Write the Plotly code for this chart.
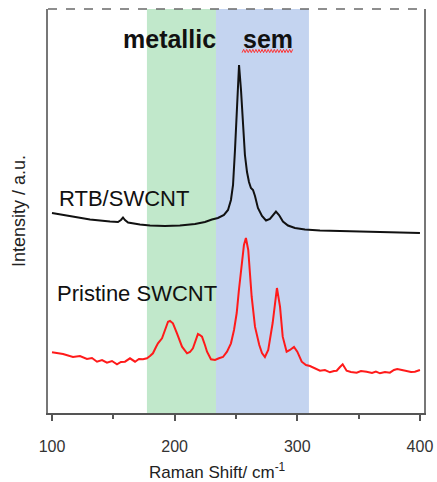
import plotly.graph_objects as go

# Raman shift (cm-1) and intensity (a.u., arbitrary offset units)
rtb_x = [100, 114.7, 131, 147.3, 153.8, 156.2, 157.9, 159.5, 162, 171.7, 179.9, 192, 204.3, 216.6,
         224.7, 230.4, 235.3, 240.2, 243.5, 245.9, 247.6, 249.2, 250.8, 252.5, 254.1, 255.7, 257.3,
         259, 260.6, 262.2, 263.9, 265.5, 267.9, 271.2, 274.5, 277.7, 280.2, 282.6, 285.1, 288.3,
         292.4, 298.1, 306.2, 318.5, 334.8, 351.1, 367.4, 383.7, 400]
rtb_y = [200, 197, 193.5, 191.5, 191, 193, 195.5, 193, 190.5, 188.5, 187.5, 187, 187.5, 189,
         191, 193.5, 195, 198, 203, 213, 228, 263, 313, 348, 323, 283, 258,
         241, 231, 225, 223, 217, 205, 197, 192.5, 194, 198.5, 201.5, 198, 191.5,
         187.5, 185, 183.5, 182.5, 182, 181.5, 180.5, 180.5, 180]

pri_x = [100.0, 109.0, 117.1, 122.8, 128.5, 132.6, 136.7, 140.8, 144.8, 148.9, 153.0, 156.2, 159.5,
         163.6, 167.7, 170.9, 174.2, 177.4, 179.9, 182.3, 184.8, 186.4, 189.7, 192.1, 194.6, 196.2,
         198.6, 201.9, 206.0, 210.1, 212.5, 214.9, 217.4, 219.0, 220.6, 222.3, 224.7, 226.4, 229.6,
         232.9, 236.1, 239.4, 242.7, 245.9, 248.4, 250.6, 252.4, 254.6, 256.5, 258.1, 260.0, 262.8,
         265.5, 269.0, 271.2, 273.6, 276.3, 279.9, 281.8, 283.4, 285.9, 288.1, 291.3, 294.0, 297.3,
         300.0, 303.6, 307.1, 310.3, 314.4, 318.5, 322.5, 326.6, 329.9, 332.1, 334.8, 337.0, 340.2,
         343.7, 348.4, 351.9, 356.5, 360.9, 364.1, 367.4, 371.5, 375.5, 378.8, 381.5, 385.3, 389.2,
         392.7, 395.9, 400.0]
pri_y = [60.7, 59, 56, 57, 54, 55, 51.3, 53, 50.3, 52, 48.7, 51, 51.3,
         54.7, 51.3, 54, 53.7, 54.7, 57, 59.7, 66, 69.7, 74.7, 83, 91.3, 92,
         89.7, 79.7, 66.3, 59.7, 61, 64.7, 73, 79, 78, 76.3, 68, 61.3, 53.7,
         53, 54.7, 56, 61.3, 69.7, 83, 100, 123, 150, 168, 175, 163, 116.3,
         86.3, 68, 60, 56, 63, 90, 113, 125, 106.3, 76.3, 61.3, 63, 66,
         61.3, 51.3, 48, 47, 45, 42.3, 43, 40.7, 42, 42.3, 46, 48.7, 42.3,
         41, 40.3, 42, 41.3, 40, 41.5, 39.7, 41, 40.3, 43, 44, 43, 42.3,
         41, 41.3, 43]

metallic_band = [177.4, 233.7]
semi_band = [233.7, 309.5]
x_ticks = [100, 200, 300, 400]
minor_ticks = [150, 250, 350]

W, H = 437, 482
L, R, T, B = 48, 13, 9, 69
PW, PH = W - L - R, H - T - B

fig = go.Figure()
fig.add_shape(type="rect", xref="x", yref="paper", x0=metallic_band[0], x1=metallic_band[1],
              y0=0, y1=1, fillcolor="#c1e8cb", line_width=0, layer="below")
fig.add_shape(type="rect", xref="x", yref="paper", x0=semi_band[0], x1=semi_band[1],
              y0=0, y1=1, fillcolor="#c4d4f0", line_width=0, layer="below")

fig.add_trace(go.Scatter(x=rtb_x, y=rtb_y, mode="lines", line=dict(color="#111111", width=2),
                         showlegend=False))
fig.add_trace(go.Scatter(x=pri_x, y=pri_y, mode="lines", line=dict(color="#ff1a1a", width=2),
                         showlegend=False))

# top dashed border
fig.add_shape(type="line", xref="paper", yref="paper", x0=0, x1=1, y0=1, y1=1,
              line=dict(color="#6a6a6a", width=1.5, dash="dash"))

# red wavy underline under "sem"
xs = 255.0
pts = []
i = 0
while xs <= 296.5:
    pts.append(f"{xs:.2f},{362 + (1.6 if i % 2 else -1.6):.2f}")
    xs += 1.25
    i += 1
fig.add_shape(type="path", xref="x", yref="y", path="M " + " L ".join(pts),
              line=dict(color="#ff3030", width=1))

font = "Liberation Sans, Arial, sans-serif"
fig.add_annotation(x=196.2, y=374, xref="x", yref="y", text="<b>metallic</b>", showarrow=False,
                   font=dict(family=font, size=25, color="#111111"))
fig.add_annotation(x=275.7, y=374, xref="x", yref="y", text="<b>sem</b>", showarrow=False,
                   font=dict(family=font, size=25, color="#111111"))
fig.add_annotation(x=104.1, y=215, xref="x", yref="y", text="RTB/SWCNT", showarrow=False,
                   xanchor="left", font=dict(family=font, size=22, color="#111111"))
fig.add_annotation(x=102.4, y=120, xref="x", yref="y", text="Pristine SWCNT", showarrow=False,
                   xanchor="left", font=dict(family=font, size=22, color="#111111"))
fig.add_annotation(x=(217.5 - L) / PW, y=(H - B - 471) / PH, xref="paper", yref="paper",
                   xanchor="center", yanchor="middle", text="Raman Shift/ cm<sup>-1</sup>",
                   showarrow=False, font=dict(family=font, size=17, color="#222222"))
fig.add_annotation(x=(19 - L) / PW, y=(H - B - 211) / PH, xref="paper", yref="paper",
                   xanchor="center", yanchor="middle", showarrow=False,
                   text="Intensity / a.u.", textangle=-90,
                   font=dict(family=font, size=18, color="#222222"))

fig.update_layout(
    width=W, height=H,
    margin=dict(l=L, r=R, t=T, b=B, autoexpand=False),
    paper_bgcolor="white", plot_bgcolor="white",
    xaxis=dict(range=[96.74, 403.3], tickvals=x_ticks, ticks="outside", ticklen=6,
               tickwidth=1.5, tickcolor="#555555", showline=True, linecolor="#555555",
               linewidth=1.5, showgrid=False, zeroline=False, ticklabelstandoff=12,
               automargin=False,
               tickfont=dict(family=font, size=16, color="#333333"),
               minor=dict(tickvals=minor_ticks, ticks="outside", ticklen=4,
                          tickwidth=1.5, tickcolor="#555555")),
    yaxis=dict(range=[0, 404], showticklabels=False, ticks="", showline=True, mirror=True,
               linecolor="#777777", linewidth=1.5, showgrid=False, zeroline=False,
               automargin=False),
)

fig.write_html("out.html")
